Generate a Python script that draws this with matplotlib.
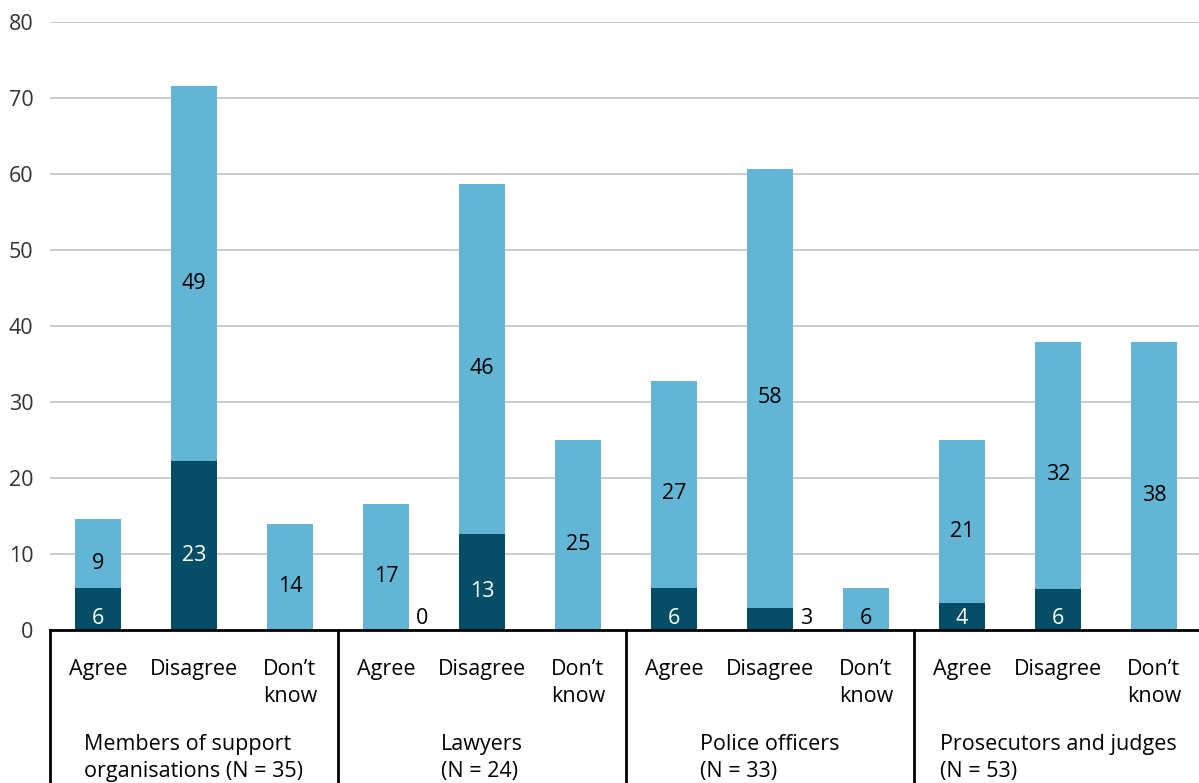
import matplotlib
matplotlib.use("Agg")
import matplotlib.pyplot as plt
from matplotlib.lines import Line2D

plt.rcParams['font.family'] = ['Open Sans', 'DejaVu Sans']

groups = ["Members of support\norganisations (N = 35)", "Lawyers\n(N = 24)",
          "Police officers\n(N = 33)", "Prosecutors and judges\n(N = 53)"]
responses = ["Agree", "Disagree", "Don\u2019t\nknow"]

# percentages per bar (group x response), dark = bottom segment, light = top segment
dark = [5.5, 22.2, 0, 0, 12.6, 0, 5.5, 2.9, 0, 3.5, 5.4, 0]
light = [9.1, 49.4, 13.9, 16.6, 46.1, 25.0, 27.3, 57.8, 5.5, 21.5, 32.5, 37.9]
dark_labels = ["6", "23", None, "0", "13", None, "6", "3", None, "4", "6", None]
light_labels = ["9", "49", "14", "17", "46", "25", "27", "58", "6", "21", "32", "38"]
yticks = [0, 10, 20, 30, 40, 50, 60, 70, 80]

DARK = "#044f67"
LIGHT = "#62b5d5"
FS = 15.5

W, H = 1199, 783
fig = plt.figure(figsize=(W / 100, H / 100), dpi=100)
ax_left, ax_right, ax_bot, ax_top = 50, 1202, 630, 22
ax = fig.add_axes([ax_left / W, (H - ax_bot) / H, (ax_right - ax_left) / W, (ax_bot - ax_top) / H])

n = len(light)
x = list(range(n))
bw = 0.48
ax.bar(x, dark, width=bw, color=DARK, zorder=3)
ax.bar(x, light, width=bw, bottom=dark, color=LIGHT, zorder=3)

ax.set_xlim(-0.5, n - 0.5)
ax.set_ylim(0, 80)
ax.set_yticks(yticks)
ax.set_yticklabels([str(v) for v in yticks], fontsize=FS, color="#333333")
ax.tick_params(axis='y', length=0, pad=12)
ax.set_xticks([])
ax.yaxis.grid(True, color="#bdbdbd", linewidth=1.1, zorder=0)
ax.set_axisbelow(True)
for s in ['left', 'right', 'top']:
    ax.spines[s].set_visible(False)
ax.spines['bottom'].set_linewidth(2)
ax.spines['bottom'].set_color('black')
ax.spines['bottom'].set_zorder(5)

ppu = (ax_bot - ax_top) / 80.0  # pixels per unit
off = 7 / ppu
ymin_lab = 14 / ppu

for i in range(n):
    d = dark[i]
    l = light[i]
    if dark_labels[i] is not None:
        if d < 3.2:
            ax.text(i + bw / 2 + 0.07, ymin_lab, dark_labels[i], ha='left', va='center_baseline',
                    fontsize=FS, color='black', zorder=4)
        else:
            yl = max(d / 2 - off, ymin_lab)
            ax.text(i, yl, dark_labels[i], ha='center', va='center_baseline',
                    fontsize=FS, color='white', zorder=4)
    yl = max(d + l / 2 - off, ymin_lab)
    ax.text(i, yl, light_labels[i], ha='center', va='center_baseline',
            fontsize=FS, color='black', zorder=4)

# category labels
tr = ax.get_xaxis_transform()
ax_h = ax_bot - ax_top
for i in range(n):
    ax.text(i, -(659 - ax_bot) / ax_h, responses[i % 3], transform=tr, ha='center', va='top',
            multialignment='left', fontsize=FS, linespacing=1.4, clip_on=False)

for g, name in enumerate(groups):
    ax.text(g * 3 + 1, -(734 - ax_bot) / ax_h, name, transform=tr, ha='center', va='top',
            multialignment='left', fontsize=FS, linespacing=1.4, clip_on=False)

for g in range(len(groups)):
    xb = g * 3 - 0.5
    ax.add_line(Line2D([xb, xb], [0, -0.4], transform=tr, color='black', linewidth=2,
                       clip_on=False, zorder=5))

fig.savefig("out.png", dpi=100)
